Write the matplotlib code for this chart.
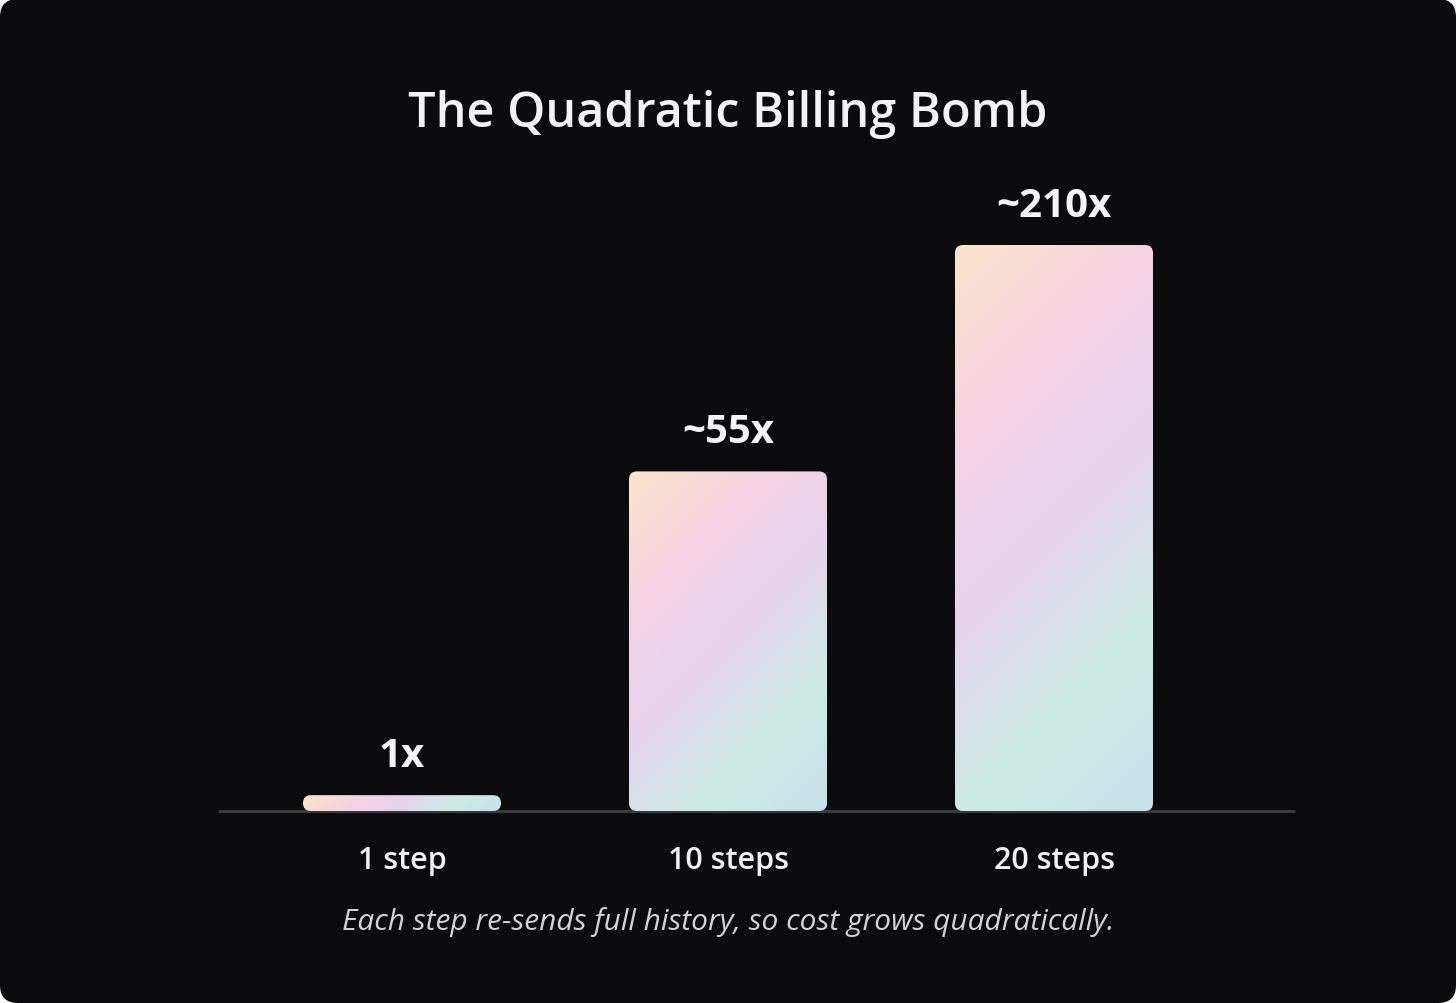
import numpy as np
import matplotlib
matplotlib.use("Agg")
import matplotlib.pyplot as plt
from matplotlib.patches import FancyBboxPatch
from matplotlib.colors import LinearSegmentedColormap

# chart data
categories = ["1 step", "10 steps", "20 steps"]
value_labels = ["1x", "~55x", "~210x"]
bar_heights = [2.8, 60, 100]          # drawn height, % of tallest bar
gradient_colors = ["#fae4cb", "#f6d3e2", "#e6d2ee", "#cdebe2", "#c7e0eb"]

title = "The Quadratic Billing Bomb"
subtitle = "Each step re-sends full history, so cost grows quadratically."

W, H, DPI = 1456, 1004, 100
bg = "#0b0b0d"
plt.rcParams["font.family"] = ["Open Sans", "DejaVu Sans"]

fig = plt.figure(figsize=(W / DPI, H / DPI), dpi=DPI, facecolor="white")

# rounded dark card behind everything
bgax = fig.add_axes([0, 0, 1, 1], zorder=-5)
bgax.set_xlim(0, W)
bgax.set_ylim(0, H)
bgax.axis("off")
bgax.add_patch(FancyBboxPatch((0, 0), W, H, boxstyle="round,pad=0,rounding_size=18",
                              facecolor=bg, edgecolor="none"))

# plot area: left/right edges of baseline, bottom at baseline, top at tallest bar
left, right, base, top = 218, 1295, 812, 246
ax = fig.add_axes([left / W, (H - base) / H, (right - left) / W, (base - top) / H])
ax.set_facecolor("none")
for s in ax.spines.values():
    s.set_visible(False)
ax.set_xticks([])
ax.set_yticks([])

x = np.arange(len(categories))
px_per_x = 326.0
px_per_y = (base - top) / 100.0
bar_w = 198 / px_per_x
cmap = LinearSegmentedColormap.from_list("bars", gradient_colors)
radius_px = 8

for xi, h, lab in zip(x, bar_heights, value_labels):
    x0 = xi - bar_w / 2
    wpx, hpx = bar_w * px_per_x, h * px_per_y
    r = min(radius_px, hpx / 2) / px_per_x
    patch = FancyBboxPatch((x0, 0), bar_w, h,
                           boxstyle=f"round,pad=0,rounding_size={r}",
                           mutation_aspect=px_per_x / px_per_y,
                           facecolor="none", edgecolor="none")
    ax.add_patch(patch)
    # 135deg gradient (top-left -> bottom-right) in pixel space
    u = np.linspace(0, wpx, max(int(wpx), 2))
    v = np.linspace(0, hpx, max(int(hpx), 2))
    uu, vv = np.meshgrid(u, v)
    t = (uu + vv) / (wpx + hpx)
    im = ax.imshow(t, cmap=cmap, vmin=0, vmax=1, extent=(x0, x0 + bar_w, 0, h),
                   origin="upper", aspect="auto", interpolation="bilinear", zorder=2)
    im.set_clip_path(patch)
    ax.annotate(lab, (xi, h), xytext=(0, 21), textcoords="offset points",
                ha="center", va="baseline", fontsize=29, fontweight="bold",
                color="#f4f4f8", annotation_clip=False)
    ax.annotate(categories[xi], (xi, 0), xytext=(0, -41), textcoords="offset points",
                ha="center", va="baseline", fontsize=22, fontweight="semibold",
                color="#f0f0f5", annotation_clip=False)

ax.axhline(0, color="#3a3a3d", lw=2.2, zorder=1, clip_on=False, solid_capstyle="butt")
ax.set_xlim((left - 402) / px_per_x, (right - 402) / px_per_x)
ax.set_ylim(0, 100)

fig.text(0.5, 1 - 127 / H, title, ha="center", va="baseline", fontsize=35,
         fontweight="semibold", color="#f2f2f7")
fig.text(0.5, 1 - 930 / H, subtitle, ha="center", va="baseline", fontsize=21.5,
         style="italic", color="#d2d2da")

fig.savefig("out.png", dpi=DPI, facecolor="white")
